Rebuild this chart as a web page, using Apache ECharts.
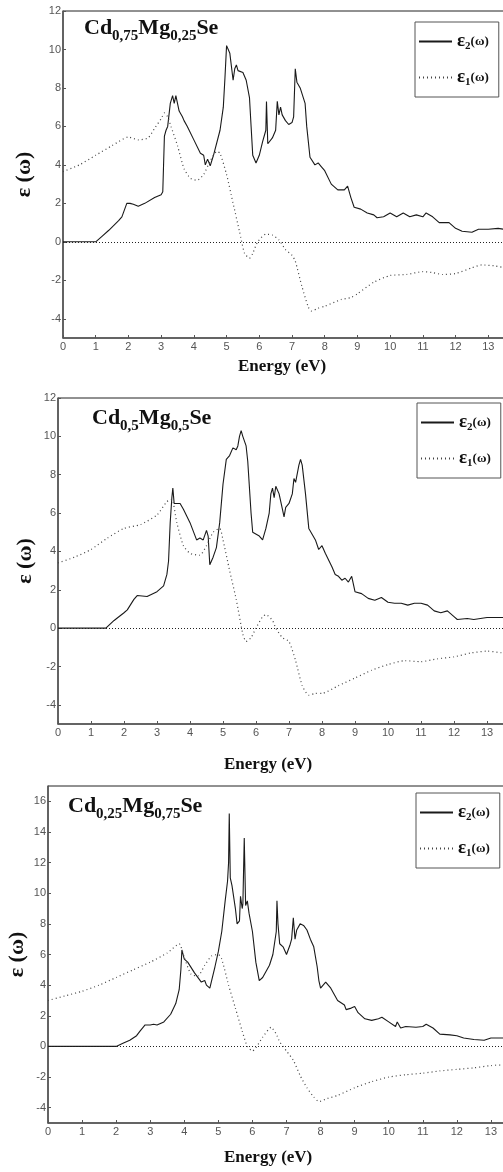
<!DOCTYPE html>
<html>
<head>
<meta charset="utf-8">
<script src="https://cdn.jsdelivr.net/npm/echarts@6/dist/echarts.min.js"></script>
<style>
  html, body { margin: 0; padding: 0; background: #fff; }
  #chart { width: 503px; height: 1172px; }
</style>
</head>
<body>
<div id="chart"></div>
<script>
// Dielectric function spectra of Cd(1-x)Mg(x)Se alloys: [energy (eV), value]
const energyTicks = [0, 1, 2, 3, 4, 5, 6, 7, 8, 9, 10, 11, 12, 13];
const epsTicksA = [-4, -2, 0, 2, 4, 6, 8, 10, 12];
const epsTicksB = [-4, -2, 0, 2, 4, 6, 8, 10, 12, 14, 16];

const compositions = ['Cd0,75Mg0,25Se', 'Cd0,5Mg0,5Se', 'Cd0,25Mg0,75Se'];

// x = 0.25
const eps2_x025 = [[0,0],[1.0,0],[1.2,0.3],[1.4,0.6],[1.7,1.1],[1.8,1.3],[1.95,2.0],[2.05,2.0],[2.15,1.95],[2.3,1.85],[2.5,2.0],[2.8,2.3],[3.0,2.45],[3.05,2.6],[3.1,5.5],[3.15,5.8],[3.2,6.0],[3.28,7.2],[3.35,7.6],[3.4,7.2],[3.45,7.6],[3.55,6.8],[3.65,6.5],[3.7,6.3],[3.8,6.0],[4.0,5.3],[4.2,4.6],[4.3,4.5],[4.35,4.0],[4.42,4.3],[4.5,3.95],[4.6,4.5],[4.8,5.8],[4.9,7.0],[4.95,8.5],[5.0,10.2],[5.05,10.1],[5.1,9.8],[5.2,8.4],[5.25,9.0],[5.3,9.2],[5.35,8.9],[5.5,8.8],[5.6,8.4],[5.7,7.5],[5.75,6.0],[5.8,4.5],[5.9,4.1],[6.0,4.5],[6.1,5.2],[6.2,5.8],[6.22,7.3],[6.26,5.1],[6.4,5.4],[6.5,5.8],[6.55,7.3],[6.6,6.6],[6.65,7.0],[6.7,6.6],[6.8,6.3],[6.9,6.1],[7.0,6.2],[7.05,6.5],[7.1,9.0],[7.15,8.3],[7.2,8.2],[7.25,8.0],[7.3,8.1],[7.4,7.2],[7.45,6.0],[7.55,4.4],[7.7,4.0],[7.8,4.1],[7.9,3.9],[8.0,3.7],[8.2,3.0],[8.4,2.7],[8.6,2.7],[8.7,2.9],[8.8,2.3],[8.9,1.8],[9.1,1.7],[9.3,1.5],[9.5,1.4],[9.6,1.25],[9.8,1.3],[10.0,1.5],[10.2,1.3],[10.4,1.5],[10.6,1.3],[10.8,1.4],[11.0,1.3],[11.1,1.5],[11.3,1.3],[11.5,1.0],[11.8,1.0],[12.0,0.7],[12.2,0.55],[12.5,0.5],[12.7,0.65],[13.0,0.65],[13.3,0.7],[13.5,0.65]];
const eps1_x025 = [[0,3.65],[0.5,4.0],[1.0,4.5],[1.5,5.0],[2.0,5.45],[2.3,5.3],[2.6,5.4],[2.8,5.9],[3.0,6.4],[3.1,6.7],[3.2,6.5],[3.3,6.0],[3.5,5.0],[3.7,3.8],[3.9,3.3],[4.1,3.2],[4.3,3.5],[4.5,4.2],[4.7,4.7],[4.8,4.6],[5.0,3.5],[5.2,2.0],[5.4,0.5],[5.55,-0.6],[5.7,-0.85],[5.8,-0.6],[5.95,0.0],[6.2,0.4],[6.4,0.35],[6.6,0.1],[6.8,-0.4],[7.0,-0.7],[7.1,-1.0],[7.3,-2.3],[7.5,-3.4],[7.6,-3.6],[7.8,-3.45],[8.0,-3.35],[8.5,-3.0],[8.8,-2.9],[9.0,-2.7],[9.5,-2.1],[10.0,-1.75],[10.5,-1.7],[11.0,-1.55],[11.3,-1.6],[11.6,-1.7],[12.0,-1.65],[12.5,-1.35],[12.8,-1.2],[13.2,-1.25],[13.5,-1.35]];

// x = 0.5
const eps2_x05 = [[0,0],[1.45,0],[1.7,0.4],[2.0,0.8],[2.1,0.95],[2.3,1.5],[2.4,1.7],[2.7,1.65],[3.0,1.9],[3.2,2.2],[3.3,2.8],[3.35,3.5],[3.4,5.5],[3.45,6.8],[3.48,7.3],[3.52,6.5],[3.7,6.5],[3.8,6.2],[4.0,5.5],[4.2,4.6],[4.3,4.7],[4.4,4.6],[4.5,5.1],[4.55,4.8],[4.6,3.3],[4.7,3.7],[4.8,4.2],[4.9,5.5],[5.0,7.5],[5.1,8.8],[5.2,9.0],[5.3,9.4],[5.4,9.3],[5.45,9.5],[5.5,10.0],[5.55,10.3],[5.6,10.0],[5.7,9.5],[5.75,8.7],[5.85,6.0],[5.9,5.0],[6.1,4.8],[6.2,4.6],[6.3,5.2],[6.4,6.0],[6.45,7.0],[6.5,7.3],[6.55,6.8],[6.6,7.4],[6.7,7.0],[6.8,6.2],[6.85,5.8],[6.9,6.3],[7.0,6.5],[7.1,7.0],[7.15,7.8],[7.2,7.6],[7.3,8.5],[7.35,8.8],[7.4,8.5],[7.5,7.0],[7.6,5.2],[7.7,4.9],[7.8,4.6],[7.9,4.1],[8.0,4.3],[8.1,3.9],[8.3,3.2],[8.4,2.8],[8.5,2.7],[8.6,2.5],[8.7,2.6],[8.8,2.4],[8.9,2.7],[9.0,1.9],[9.2,1.8],[9.4,1.55],[9.6,1.45],[9.8,1.6],[10.0,1.35],[10.2,1.3],[10.4,1.3],[10.6,1.2],[10.8,1.3],[11.0,1.3],[11.2,1.2],[11.4,0.9],[11.6,0.8],[11.8,0.9],[12.0,0.6],[12.1,0.45],[12.4,0.5],[12.6,0.45],[12.8,0.5],[13.0,0.55],[13.5,0.55]];
const eps1_x05 = [[0,3.4],[0.5,3.7],[1.0,4.1],[1.5,4.7],[2.0,5.2],[2.5,5.4],[3.0,5.9],[3.3,6.6],[3.45,6.7],[3.6,5.5],[3.8,4.3],[4.0,3.9],[4.3,3.8],[4.5,4.3],[4.7,5.0],[4.9,5.2],[5.0,4.6],[5.2,3.0],[5.4,1.5],[5.6,-0.3],[5.7,-0.7],[5.85,-0.5],[6.0,0.0],[6.2,0.6],[6.3,0.7],[6.5,0.4],[6.6,0.0],[6.8,-0.5],[7.0,-0.7],[7.2,-1.7],[7.4,-3.0],[7.6,-3.5],[7.8,-3.4],[8.0,-3.4],[8.5,-3.0],[9.0,-2.6],[9.5,-2.2],[10.0,-1.9],[10.5,-1.7],[11.0,-1.75],[11.5,-1.6],[12.0,-1.5],[12.5,-1.3],[13.0,-1.2],[13.5,-1.3]];

// x = 0.75
const eps2_x075 = [[0,0],[2.0,0],[2.2,0.2],[2.4,0.4],[2.6,0.7],[2.7,1.0],[2.85,1.4],[3.0,1.4],[3.1,1.45],[3.2,1.4],[3.4,1.6],[3.6,2.1],[3.75,2.8],[3.85,3.7],[3.9,5.0],[3.93,6.3],[4.0,5.7],[4.1,5.5],[4.3,4.8],[4.5,4.2],[4.6,4.3],[4.65,4.0],[4.75,3.8],[4.9,5.2],[5.0,6.2],[5.1,7.5],[5.2,9.5],[5.27,10.8],[5.3,12.0],[5.32,15.2],[5.35,11.0],[5.4,10.5],[5.5,9.0],[5.55,8.0],[5.62,8.2],[5.65,9.8],[5.7,9.0],[5.72,9.3],[5.76,13.6],[5.8,9.2],[5.85,9.5],[5.9,8.7],[6.0,7.5],[6.1,5.5],[6.2,4.3],[6.3,4.5],[6.5,5.3],[6.6,6.0],[6.7,7.5],[6.72,9.5],[6.75,8.0],[6.8,6.7],[6.9,6.5],[7.0,6.0],[7.1,6.6],[7.15,7.0],[7.2,8.4],[7.25,7.0],[7.3,7.6],[7.4,8.0],[7.5,7.9],[7.6,7.6],[7.7,7.0],[7.8,6.5],[7.9,5.2],[7.95,4.3],[8.0,3.8],[8.15,4.2],[8.3,3.8],[8.5,3.0],[8.7,2.7],[8.75,2.4],[8.9,2.5],[9.0,2.6],[9.1,2.2],[9.3,1.8],[9.5,1.7],[9.7,1.8],[9.8,1.9],[10.0,1.6],[10.2,1.3],[10.25,1.6],[10.35,1.2],[10.5,1.3],[10.8,1.25],[11.0,1.3],[11.1,1.45],[11.3,1.2],[11.5,0.8],[11.8,0.75],[12.0,0.7],[12.2,0.55],[12.5,0.45],[12.8,0.4],[13.0,0.55],[13.4,0.55]];
const eps1_x075 = [[0,3.0],[0.5,3.3],[1.0,3.6],[1.5,4.0],[2.0,4.5],[2.5,5.0],[3.0,5.5],[3.5,6.1],[3.85,6.7],[4.0,5.8],[4.2,4.7],[4.4,4.6],[4.6,5.3],[4.8,5.9],[5.0,6.0],[5.1,5.7],[5.3,4.0],[5.5,2.5],[5.7,1.0],[5.85,0.0],[6.0,-0.3],[6.1,-0.1],[6.3,0.6],[6.55,1.25],[6.7,0.8],[6.8,0.3],[7.0,-0.3],[7.2,-0.9],[7.4,-1.9],[7.6,-2.7],[7.8,-3.3],[7.95,-3.6],[8.2,-3.4],[8.5,-3.2],[9.0,-2.7],[9.5,-2.3],[10.0,-2.0],[10.5,-1.85],[11.0,-1.75],[11.5,-1.6],[12.0,-1.5],[12.5,-1.4],[13.0,-1.25],[13.4,-1.2]];

const eps2Sets = [eps2_x025, eps2_x05, eps2_x075];
const eps1Sets = [eps1_x025, eps1_x05, eps1_x075];

// panel geometry (plot frames run past the right edge of the page)
const panels = [
  { left: 63, top: 11, height: 327, width: 458, yMax: 12, ticks: epsTicksA, nameGap: 28, legendTop: 22, legendLeft: 415, titleLeft: 84, titleTop: 13, xNameTop: 358, xNameLeft: 238 },
  { left: 58, top: 398, height: 326, width: 462, yMax: 12, ticks: epsTicksA, nameGap: 22, legendTop: 403, legendLeft: 417, titleLeft: 92, titleTop: 403, xNameTop: 756, xNameLeft: 224 },
  { left: 48, top: 786, height: 337, width: 477, yMax: 17, ticks: epsTicksB, nameGap: 20, legendTop: 793, legendLeft: 416, titleLeft: 68, titleTop: 791, xNameTop: 1149, xNameLeft: 224 }
];

const serif = '"Liberation Serif", "Times New Roman", serif';
const sans = '"Liberation Sans", Arial, sans-serif';

const titleRich = {
  m: { fontFamily: serif, fontWeight: 'bold', fontSize: 22, color: '#111' },
  s: { fontFamily: serif, fontWeight: 'bold', fontSize: 15, color: '#111', padding: [16, 0, 0, 0] }
};
function formulaText(f) {
  // "Cd0,75Mg0,25Se" -> rich text with subscripted fractions
  return f.replace(/(Cd|Mg|Se)/g, '{m|$1}').replace(/(\d,\d+)/g, '{s|$1}');
}

const legendRich = {
  e: { fontFamily: serif, fontWeight: 'bold', fontSize: 19, color: '#111' },
  s: { fontFamily: serif, fontWeight: 'bold', fontSize: 11, color: '#111', padding: [10, 0, 0, 0] },
  w: { fontFamily: serif, fontWeight: 'bold', fontSize: 13, color: '#111' }
};

const option = {
  animation: false,
  backgroundColor: '#fff',
  title: panels.map((p, i) => ({
    text: formulaText(compositions[i]),
    left: p.titleLeft, top: p.titleTop, padding: 0,
    textStyle: { rich: titleRich }
  })),
  legend: panels.map(p => ({
    orient: 'vertical',
    left: p.legendLeft, top: p.legendTop,
    data: ['ε2(ω)', 'ε1(ω)'],
    itemWidth: 33, itemHeight: 14, itemGap: 16,
    padding: [10, 10, 9, 3],
    borderColor: '#555', borderWidth: 1,
    backgroundColor: '#fff',
    selectedMode: false,
    itemStyle: { opacity: 0 },
    formatter: n => n === 'ε2(ω)' ? '{e|ε}{s|2}{w|(ω)}' : '{e|ε}{s|1}{w|(ω)}',
    textStyle: { rich: legendRich }
  })),
  grid: panels.map(p => ({
    left: p.left, top: p.top, height: p.height, width: p.width,
    outerBoundsMode: 'none', containLabel: false,
    show: true, borderColor: '#222', borderWidth: 1, backgroundColor: 'transparent'
  })),
  xAxis: panels.map((p, i) => ({
    type: 'value', gridIndex: i, min: 0, max: 14, interval: 1,
    axisLine: { show: true, onZero: false, lineStyle: { color: '#555', width: 1.5 } },
    axisTick: { show: true, inside: true, length: 3, lineStyle: { color: '#555' }, customValues: energyTicks },
    axisLabel: { color: '#555', fontFamily: sans, fontSize: 11, margin: 3, customValues: energyTicks },
    splitLine: { show: false }
  })),
  yAxis: panels.map((p, i) => ({
    type: 'value', gridIndex: i, min: -5, max: p.yMax,
    name: 'ε (ω)', nameLocation: 'middle', nameGap: p.nameGap, nameMoveOverlap: false,
    nameTextStyle: { fontFamily: serif, fontWeight: 'bold', fontSize: 22, color: '#111' },
    axisLine: { show: true, onZero: false, lineStyle: { color: '#555', width: 1.5 } },
    axisTick: { show: true, inside: true, length: 3, lineStyle: { color: '#555' }, customValues: p.ticks },
    axisLabel: { color: '#555', fontFamily: sans, fontSize: 11, margin: 2, customValues: p.ticks },
    splitLine: { show: false }
  })),
  graphic: panels.map(p => ({
    type: 'text', left: p.xNameLeft, top: p.xNameTop,
    style: { text: 'Energy (eV)', font: 'bold 17px ' + serif, fill: '#111' }
  })),
  series: []
};

panels.forEach((p, i) => {
  option.series.push({
    name: 'ε2(ω)', type: 'line', xAxisIndex: i, yAxisIndex: i,
    data: eps2Sets[i], showSymbol: false, symbol: 'none',
    lineStyle: { color: '#1a1a1a', width: 1.1 }, itemStyle: { color: '#1a1a1a' }
  });
  option.series.push({
    name: 'ε1(ω)', type: 'line', xAxisIndex: i, yAxisIndex: i,
    data: eps1Sets[i], showSymbol: false, symbol: 'none', smooth: 0.2,
    lineStyle: { color: '#444', width: 1.2, type: [1, 3] }, itemStyle: { color: '#444' },
    markLine: {
      silent: true, symbol: 'none', label: { show: false },
      lineStyle: { color: '#222', width: 1, type: [1, 2] },
      data: [{ yAxis: 0 }]
    }
  });
});

const chart = echarts.init(document.getElementById('chart'), null, { renderer: 'canvas' });
chart.setOption(option);
</script>
</body>
</html>
